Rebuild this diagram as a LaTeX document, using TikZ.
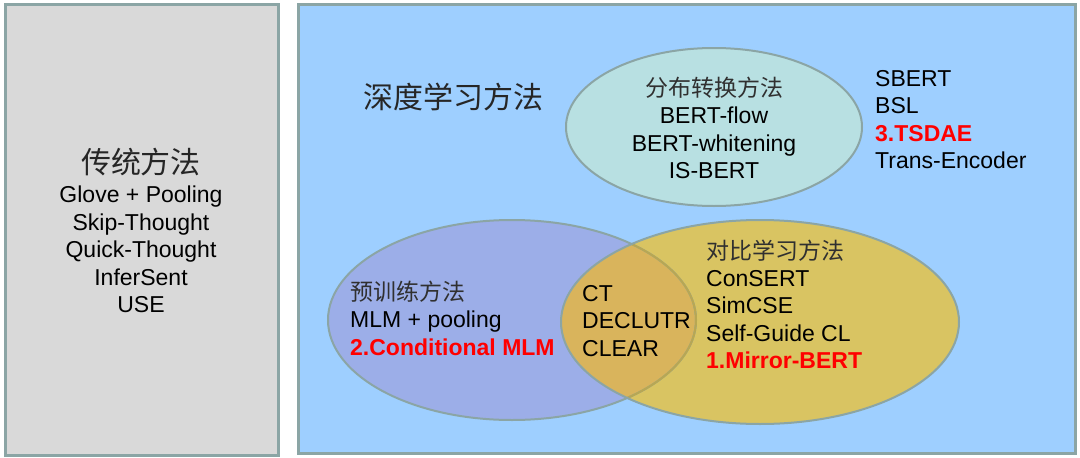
\documentclass[tikz,border=0pt]{standalone}
\usepackage{fontspec}
\setmainfont{Liberation Sans}
\newfontfamily\cjk{Noto Sans CJK SC}
\usetikzlibrary{shapes.geometric}
\definecolor{bordc}{HTML}{8BA5A5}
\definecolor{grayfill}{HTML}{D9D9D9}
\definecolor{bluebg}{HTML}{9ECFFF}
\definecolor{tealc}{HTML}{B8E0E2}
\definecolor{purpc}{HTML}{9CAEE8}
\definecolor{yellc}{HTML}{D9C462}
\definecolor{overc}{HTML}{D9B45C}
\definecolor{cjkgray}{HTML}{303030}
\definecolor{redc}{HTML}{FF0000}
\begin{document}
\begin{tikzpicture}[x=1pt,y=-1pt,
  panel/.style={draw=bordc,line width=3pt},
  lab/.style={font=\fontsize{23}{27.5}\selectfont,inner sep=0pt,text=black},
  cjklab/.style={font=\cjk\fontsize{23}{26}\selectfont,inner sep=0pt,text=cjkgray},
  bigcjk/.style={font=\cjk\fontsize{30}{32}\selectfont,inner sep=0pt,text=black!85},
  ell/.style={draw=bordc,line width=2pt}
]
\useasboundingbox (0,0) rectangle (1080,458);
\fill[white] (0,0) rectangle (1080,458);
% panels
\draw[panel,fill=grayfill] (5,4) rectangle (278,455);
\draw[panel,fill=bluebg] (298,4) rectangle (1075,453);
% ellipses
\path[fill=tealc] (714,127) ellipse [x radius=148,y radius=79];
\draw[ell] (714,127) ellipse [x radius=148,y radius=79];
\path[fill=purpc] (512,320) ellipse [x radius=184,y radius=100];
\path[fill=yellc] (760,322) ellipse [x radius=199,y radius=102];
\begin{scope}
  \clip (512,320) ellipse [x radius=184,y radius=100];
  \path[fill=overc] (760,322) ellipse [x radius=199,y radius=102];
\end{scope}
\draw[ell] (512,320) ellipse [x radius=184,y radius=100];
\begin{scope}
  \clip (760,322) ellipse [x radius=199,y radius=102];
  \draw[line width=2pt,color=yellc!85!black] (512,320) ellipse [x radius=184,y radius=100];
\end{scope}
\draw[ell] (760,322) ellipse [x radius=199,y radius=102];
% left panel text
\node[bigcjk] (tradt) at (141,162) {传统方法};
\node[lab,align=center,anchor=north] (tradl) at (141,186) {Glove + Pooling\\Skip-Thought\\Quick-Thought\\InferSent\\USE};
% deep learning title
\node[bigcjk] (deept) at (453,97) {深度学习方法};
% ellipse 1
\node[cjklab] (dist) at (714,88) {分布转换方法};
\node[lab,align=center,anchor=north] (distl) at (714,107) {BERT-flow\\BERT-whitening\\IS-BERT};
% right list
\node[lab,align=left,anchor=north west] (rlist) at (875,70) {SBERT\\BSL\\\textcolor{redc}{\bfseries 3.TSDAE}\\Trans-Encoder};
% pretrain ellipse
\node[cjklab,anchor=west] (pre) at (350,292) {预训练方法};
\node[lab,align=left,anchor=north west] (prel) at (350,311) {MLM + pooling\\\textcolor{redc}{\bfseries 2.Conditional MLM}};
% overlap
\node[lab,align=left,anchor=north west] (ovl) at (582,285) {CT\\DECLUTR\\CLEAR};
% contrastive
\node[cjklab,anchor=west] (con) at (706,251) {对比学习方法};
\node[lab,align=left,anchor=north west] (conl) at (706,270) {ConSERT\\SimCSE\\Self-Guide CL\\\textcolor{redc}{\bfseries 1.Mirror-BERT}};
\end{tikzpicture}
\end{document}
